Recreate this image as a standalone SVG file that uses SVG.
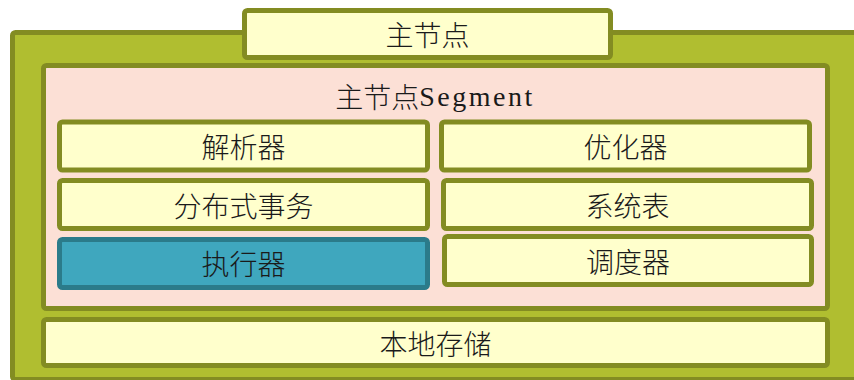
<svg xmlns="http://www.w3.org/2000/svg" width="854" height="380" viewBox="0 0 854 380">
  <style>
    .frame { fill: #b0be30; stroke: #838c22; stroke-width: 5; }
    .seg { fill: #fce0d6; stroke: #838c22; stroke-width: 5; }
    .box { fill: #ffffcc; stroke: #838c22; stroke-width: 5; }
    .blue { fill: #3fa7be; stroke: #2b7b8a; stroke-width: 5; }
    .lbl { font-family: "Noto Sans CJK SC", "Noto Sans", sans-serif; font-size: 28px; font-weight: 300; fill: #1a1a1a; text-anchor: middle; dominant-baseline: central; }
    .lat { font-family: "Liberation Serif", "Noto Sans CJK SC", serif; font-weight: 400; letter-spacing: 2.5px; }
  </style>
  <rect x="0" y="0" width="854" height="380" fill="#ffffff"/>
  <g id="outer-frame">
    <rect class="frame" x="12.5" y="32.5" width="850" height="347" rx="3"/>
  </g>
  <g id="master-node">
    <rect class="box" x="244.5" y="10.5" width="366" height="47" rx="3"/>
    <text class="lbl" x="427.5" y="34">主节点</text>
  </g>
  <g id="master-segment">
    <rect class="seg" x="43.5" y="65.5" width="784" height="243" rx="3"/>
    <text class="lbl" x="435" y="96">主节点<tspan class="lat">Segment</tspan></text>
  </g>
  <g id="parser">
    <rect class="box" x="59.5" y="122" width="368" height="48" rx="3"/>
    <text class="lbl" x="243.5" y="146">解析器</text>
  </g>
  <g id="optimizer">
    <rect class="box" x="441.5" y="122" width="368" height="48" rx="3"/>
    <text class="lbl" x="625.5" y="146">优化器</text>
  </g>
  <g id="dist-tx">
    <rect class="box" x="59.5" y="180.5" width="368" height="48" rx="3"/>
    <text class="lbl" x="243.5" y="205">分布式事务</text>
  </g>
  <g id="catalog">
    <rect class="box" x="443.5" y="180.5" width="368" height="48" rx="3"/>
    <text class="lbl" x="627.5" y="205">系统表</text>
  </g>
  <g id="executor">
    <rect class="blue" x="59.5" y="239.5" width="368" height="48" rx="3"/>
    <text class="lbl" x="243.5" y="263">执行器</text>
  </g>
  <g id="scheduler">
    <rect class="box" x="444.5" y="236.5" width="367" height="48" rx="3"/>
    <text class="lbl" x="628" y="261">调度器</text>
  </g>
  <g id="local-storage">
    <rect class="box" x="43.5" y="319.5" width="784" height="46" rx="3"/>
    <text class="lbl" x="435.5" y="343">本地存储</text>
  </g>
  <g id="connectors"></g>
</svg>
